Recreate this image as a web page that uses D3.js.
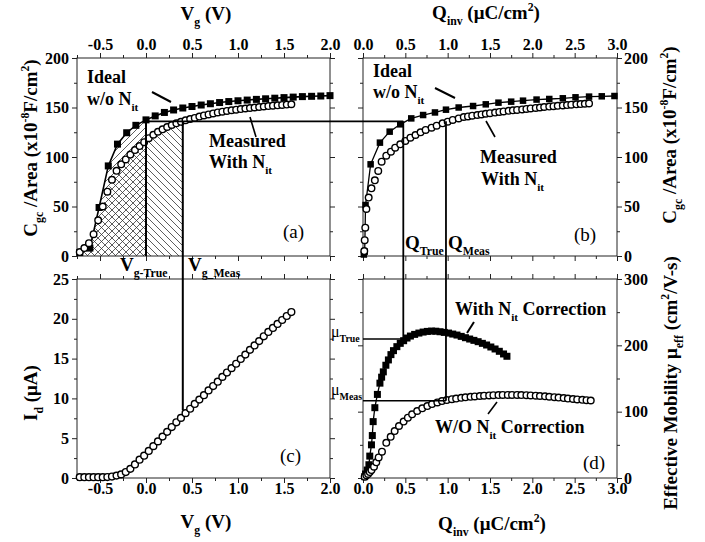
<!DOCTYPE html>
<html>
<head>
<meta charset="utf-8">
<script src="https://cdn.jsdelivr.net/npm/d3@7"></script>
<style>
body{margin:0;background:#fff;}
svg{font-family:"Liberation Serif","Times New Roman",serif;}
.tick text{font-family:"Liberation Serif","Times New Roman",serif;font-weight:bold;font-size:16px;fill:#000;}
.tick line{stroke:#222;}
</style>
</head>
<body>
<svg id="chart" width="705" height="542"></svg>
<script>
// (a) ideal C-V, squares
var vgIdeal=[-0.72,-0.61,-0.51,-0.41,-0.31,-0.21,-0.11,0.0,0.1,0.2,0.3,0.4,0.5,0.6,0.7,0.8,0.9,1.0,1.1,1.2,1.3,1.4,1.5,1.6,1.7,1.8,1.9,2.0];
var cIdeal=[3.5,8,49,91,113,124.5,132,137.5,141.5,145,147.5,149.5,151,152.5,153.8,155,156,156.8,157.5,158.2,158.8,159.4,160,160.5,161,161.3,161.6,162];
// (a) measured C-V and (c) Id-Vg, circles
var vgMeas=[-0.72,-0.67,-0.62,-0.57,-0.52,-0.47,-0.42,-0.37,-0.32,-0.27,-0.22,-0.17,-0.12,-0.07,-0.02,0.03,0.08,0.13,0.18,0.23,0.28,0.33,0.38,0.43,0.48,0.53,0.58,0.63,0.68,0.73,0.78,0.83,0.88,0.93,0.98,1.03,1.08,1.13,1.18,1.23,1.28,1.33,1.38,1.43,1.48,1.53,1.58];
var cMeas=[4,8,13,22,36,50,65,77,86,92.6,97.6,102.5,107,111,115,119,122.5,125.5,128,130.3,132.3,134,135.5,137,138.3,139.5,140.8,142,143,144,145,145.8,146.5,147.2,147.8,148.4,149,149.5,150,150.5,151,151.4,151.8,152.2,152.6,153,153.3];
var idMeas=[0.1,0.1,0.1,0.1,0.1,0.1,0.12,0.18,0.3,0.45,0.75,1.15,1.7,2.3,2.8,3.4,4.0,4.6,5.2,5.8,6.4,7.0,7.55,8.15,8.7,9.3,9.85,10.4,11.0,11.55,12.1,12.7,13.25,13.8,14.35,14.95,15.5,16.1,16.65,17.2,17.8,18.35,18.85,19.35,19.85,20.35,20.85];
// (b) C vs Qinv
var qIdeal=[0.01,0.02,0.03,0.09,0.2,0.315,0.44,0.57,0.71,0.85,0.98,1.13,1.30,1.45,1.60,1.75,1.89,2.05,2.20,2.36,2.51,2.67,2.82,2.97];
var cIdealQ=[1.5,4.4,51.5,92.6,114.5,125.6,133,139,142.4,145,147.8,150,151.5,153.2,154.9,155.9,156.9,158,158.6,159.3,160.3,161,161.3,161.6];
var qMeas=[0.015,0.02,0.027,0.04,0.067,0.1,0.14,0.18,0.22,0.275,0.33,0.38,0.44,0.5,0.56,0.62,0.68,0.74,0.81,0.87,0.94,1.0,1.06,1.13,1.19,1.24,1.29,1.35,1.40,1.45,1.50,1.56,1.61,1.66,1.72,1.77,1.82,1.88,1.93,1.98,2.04,2.09,2.14,2.20,2.25,2.30,2.36,2.41,2.46,2.52,2.57,2.62,2.67];
var cMeasQ=[5,16,28.6,47.5,59,68.4,76.4,85.9,95.3,101.3,105.4,109.4,112.8,116.2,119.5,122.2,124.9,127.3,129.6,131.6,134,135.7,137.4,139,140.4,141,141.7,142.4,143,143.7,144.3,144.9,145.5,146,146.6,147.1,147.6,148.1,148.6,149.1,149.6,150,150.5,150.9,151.3,151.7,152.1,152.5,152.9,153.2,153.5,153.8,154.1];
// (d) mobility vs Qinv
var qCorr=[0.02,0.03,0.05,0.07,0.08,0.1,0.11,0.12,0.14,0.17,0.2,0.22,0.24,0.27,0.3,0.33,0.36,0.4,0.44,0.48,0.52,0.56,0.61,0.66,0.71,0.76,0.81,0.86,0.91,0.96,1.01,1.06,1.11,1.16,1.21,1.26,1.31,1.36,1.41,1.46,1.51,1.56,1.61,1.66,1.7];
var muCorr=[2,6,12,20,33,50,64,85,106,126,143,152,160,170,178,186,192,198,203,207,211,214,216.5,218.5,220,221,221.5,221.3,220.5,219.5,218.5,217,215.5,213.5,211.5,209.5,207.5,205.5,203,200.5,197.5,194.5,191,187,183.5];
var qNoCorr=[0.02,0.04,0.06,0.08,0.1,0.13,0.157,0.185,0.224,0.275,0.327,0.374,0.425,0.48,0.53,0.58,0.64,0.7,0.76,0.815,0.878,0.933,0.99,1.05,1.1,1.16,1.21,1.27,1.32,1.38,1.43,1.49,1.54,1.6,1.65,1.71,1.76,1.82,1.87,1.93,1.98,2.04,2.09,2.15,2.2,2.26,2.31,2.37,2.42,2.48,2.53,2.59,2.64,2.69];
var muNoCorr=[2,4,6,9,12,17,23.6,31,39.7,53,62,70.8,78.4,85,91,96,101,105,108.5,111.5,114,116,117.5,118.8,119.8,120.8,121.6,122.4,123,123.6,124.1,124.5,124.8,125,125.2,125.3,125.3,125.2,125,124.8,124.5,124.1,123.6,123.1,122.5,121.9,121.2,120.5,119.8,119.1,118.4,117.8,117.3,116.8];
// guide values
var cLevel=136, vgTrue=0.0, vgMeasG=0.4, idAtMeas=8.5;
var qTrue=0.476, qMeasG=0.98, muTrue=209.5, muMeas=116.5;
// ticks
var vgTicks=[-0.5,0.0,0.5,1.0,1.5,2.0], vgMinor=[-0.75,-0.25,0.25,0.75,1.25,1.75];
var qTicks=[0.0,0.5,1.0,1.5,2.0,2.5,3.0], qMinor=[0.25,0.75,1.25,1.75,2.25,2.75];
var cTicks=[0,50,100,150,200], cMinor=[25,75,125,175];
var idTicks=[0,5,10,15,20,25], idMinor=[2.5,7.5,12.5,17.5,22.5];
var muTicks=[0,100,200,300], muMinor=[50,150,250];

var svg=d3.select("#chart");
var xA=d3.scaleLinear().domain([-0.75,2.0]).range([77,330]);
var yA=d3.scaleLinear().domain([0,200]).range([256,58]);
var yC=d3.scaleLinear().domain([0,25]).range([478,279]);
var xB=d3.scaleLinear().domain([0,3]).range([363,617]);
var yD=d3.scaleLinear().domain([0,300]).range([478,279]);

function fmt1(d){return d3.format(".1f")(d).replace("\u2212","-");}
function fmt0(d){return String(d);}

function frame(x,y,xMaj,xMin,xSide,yMaj,yMin,ySide){
  var x0=x.range()[0],x1=x.range()[1],yb=y.range()[0],yt=y.range()[1];
  var defs=[
    [d3.axisTop(x),"translate(0,"+yt+")",xMaj,xMin,xSide=="top",fmt1,3],
    [d3.axisBottom(x),"translate(0,"+yb+")",xMaj,xMin,xSide=="bottom",fmt1,0],
    [d3.axisLeft(y),"translate("+x0+",0)",yMaj,yMin,ySide=="left",fmt0,3],
    [d3.axisRight(y),"translate("+x1+",0)",yMaj,yMin,ySide=="right",fmt0,2]
  ];
  defs.forEach(function(a){
    var major=a[0].tickValues(a[2]).tickSize(5).tickPadding(a[6]);
    major.tickFormat(a[4]?a[5]:"");
    var g=svg.append("g").attr("transform",a[1]).call(major);
    g.attr("font-family",null).attr("font-size",null);
    g.select(".domain").remove();
    var mg=svg.append("g").attr("transform",a[1]).call(a[0].tickValues(a[3]).tickSize(3).tickFormat(""));
    mg.select(".domain").remove();
  });
  svg.append("rect").attr("x",x0).attr("y",yt).attr("width",x1-x0).attr("height",yb-yt)
    .attr("fill","none").attr("stroke","#222").attr("stroke-width",1);
}

// rich text with sub/superscripts
function rich(x,y,parts,size,opt){
  opt=opt||{};
  var t=svg.append("text").attr("x",x).attr("y",y).attr("font-size",size)
    .attr("font-weight",opt.normal?"normal":"bold").attr("text-anchor",opt.anchor||"start");
  if(opt.rot) t.attr("transform","rotate("+opt.rot+","+x+","+y+")");
  var off=0;
  parts.forEach(function(p){
    var tgt=0,fs=size;
    if(p[1]=="sub"){tgt=size*0.32;fs=size*0.62;}
    if(p[1]=="sup"){tgt=-size*0.42;fs=size*0.62;}
    var ts=t.append("tspan").attr("dy",(tgt-off).toFixed(2)).attr("font-size",fs).text(p[0]);
    if(p[2]) ts.attr("font-weight",p[2]);
    off=tgt;
  });
  return t;
}

// hatch patterns
var defs=svg.append("defs");
var pSlash=defs.append("pattern").attr("id","hSlash").attr("patternUnits","userSpaceOnUse").attr("width",7).attr("height",7);
pSlash.append("path").attr("d","M0,7L7,0M-1,1L1,-1M6,8L8,6").attr("stroke","#333").attr("stroke-width",0.8);
var pBack=defs.append("pattern").attr("id","hBack").attr("patternUnits","userSpaceOnUse").attr("width",7).attr("height",7);
pBack.append("path").attr("d","M0,0L7,7M-1,6L1,8M6,-1L8,1").attr("stroke","#333").attr("stroke-width",0.8);
defs.append("clipPath").attr("id","clipTrue").append("rect")
  .attr("x",xA(-0.75)).attr("y",yA(200)).attr("width",xA(vgTrue)-xA(-0.75)).attr("height",yA(0)-yA(200));
defs.append("clipPath").attr("id","clipMeas").append("rect")
  .attr("x",xA(-0.75)).attr("y",yA(200)).attr("width",xA(vgMeasG)-xA(-0.75)).attr("height",yA(0)-yA(200));

var idealA=vgIdeal.map(function(v,i){return [v,cIdeal[i]];});
var measA=vgMeas.map(function(v,i){return [v,cMeas[i]];});
var idC=vgMeas.map(function(v,i){return [v,idMeas[i]];});
var idealB=qIdeal.map(function(v,i){return [v,cIdealQ[i]];});
var measB=qMeas.map(function(v,i){return [v,cMeasQ[i]];});
var corrD=qCorr.map(function(v,i){return [v,muCorr[i]];});
var noCorrD=qNoCorr.map(function(v,i){return [v,muNoCorr[i]];});

// hatched areas in (a)
var areaA=d3.area().x(function(d){return xA(d[0]);}).y0(yA(0)).y1(function(d){return yA(d[1]);});
svg.append("path").datum(idealA).attr("d",areaA).attr("fill","url(#hSlash)").attr("clip-path","url(#clipTrue)");
svg.append("path").datum(measA).attr("d",areaA).attr("fill","url(#hBack)").attr("clip-path","url(#clipMeas)");

frame(xA,yA,vgTicks,vgMinor,"top",cTicks,cMinor,"left");
frame(xA,yC,vgTicks,vgMinor,"bottom",idTicks,idMinor,"left");
frame(xB,yA,qTicks,qMinor,"top",cTicks,cMinor,"right");
frame(xB,yD,qTicks,qMinor,"bottom",muTicks,muMinor,"right");

function lineOn(data,x,y,w){
  svg.append("path").datum(data).attr("fill","none").attr("stroke","#000").attr("stroke-width",w)
    .attr("d",d3.line().x(function(d){return x(d[0]);}).y(function(d){return y(d[1]);}));
}
function squares(data,x,y,s){
  svg.append("g").selectAll("rect").data(data).join("rect")
    .attr("x",function(d){return x(d[0])-s/2;}).attr("y",function(d){return y(d[1])-s/2;})
    .attr("width",s).attr("height",s).attr("fill","#000");
}
function circles(data,x,y,r){
  svg.append("g").selectAll("circle").data(data).join("circle")
    .attr("cx",function(d){return x(d[0]);}).attr("cy",function(d){return y(d[1]);})
    .attr("r",r).attr("fill","#fff").attr("stroke","#000").attr("stroke-width",1.4);
}

lineOn(idealA,xA,yA,1.6);
squares(idealA,xA,yA,7);
circles(measA,xA,yA,3.3);
circles(idC,xA,yC,3.4);
lineOn(idealB,xB,yA,1.3);
squares(idealB,xB,yA,6.5);
circles(measB,xB,yA,3.3);
lineOn(corrD,xB,yD,1.3);
squares(corrD,xB,yD,7);
circles(noCorrD,xB,yD,3.3);

// guide lines
function seg(x1,y1,x2,y2,w){
  svg.append("line").attr("x1",x1).attr("y1",y1).attr("x2",x2).attr("y2",y2)
    .attr("stroke","#000").attr("stroke-width",w||2);
}
seg(xA(vgTrue),yA(cLevel),xB(qTrue),yA(cLevel),1.8);
seg(xA(vgTrue),yA(cLevel),xA(vgTrue),yA(0),2);
seg(xA(vgMeasG),yA(cLevel),xA(vgMeasG),yC(idAtMeas),2);
seg(xB(qTrue),yA(cLevel),xB(qTrue),yD(muTrue),1.8);
seg(xB(qMeasG),yA(cLevel),xB(qMeasG),yD(muMeas),1.8);
seg(xB(0),yD(muTrue),xB(qTrue),yD(muTrue),1.6);
seg(xB(0),yD(muMeas),xB(qMeasG),yD(muMeas),1.6);

// pointer lines
seg(152,92,171,102,2);
seg(250,117,256,137,1.6);
seg(435,88,455,98,2);
seg(495,137,486,121,1.6);
seg(474,322,467,333,2);
seg(497,402,488,414,1.6);

// annotations
var A=18;
rich(87,83,[["Ideal"]],A);
rich(87,105,[["w/o N"],["it","sub"]],A);
rich(209,147,[["Measured"]],A);
rich(209,168,[["With N"],["it","sub"]],A);
rich(283,238,[["(a)"]],19,{normal:true});
rich(373,77,[["Ideal"]],A);
rich(373,98,[["w/o N"],["it","sub"]],A);
rich(480,163,[["Measured"]],A);
rich(481,185,[["With N"],["it","sub"]],A);
rich(574,241,[["(b)"]],19,{normal:true});
rich(280,462,[["(c)"]],19,{normal:true});
rich(455,315,[["With N"],["it","sub"],[" Correction"]],A);
rich(435,433,[["W/O N"],["it","sub"],[" Correction"]],A);
rich(583,469,[["(d)"]],19,{normal:true});
rich(120,271,[["V"],["g-True","sub"]],19);
rich(188,271,[["V"],["g_Meas","sub"]],19);
rich(405,249,[["Q"],["True","sub"]],19);
rich(448,249,[["Q"],["Meas","sub"]],19);
rich(331,337,[["\u03bc"],["True","sub","bold"]],16,{normal:true});
rich(331,395,[["\u03bc"],["Meas","sub","bold"]],16,{normal:true});

// axis titles
var T=19;
rich(206,20,[["V"],["g","sub"],[" (V)"]],T,{anchor:"middle"});
rich(486,19,[["Q"],["inv","sub"],[" (\u03bcC/cm"],["2","sup"],[")"]],T,{anchor:"middle"});
rich(206,528,[["V"],["g","sub"],[" (V)"]],T,{anchor:"middle"});
rich(492,530,[["Q"],["inv","sub"],[" (\u03bcC/cm"],["2","sup"],[")"]],T,{anchor:"middle"});
rich(37,148,[["C"],["gc","sub"],[" /Area (x10"],["-8","sup"],["F/cm"],["2","sup"],[")"]],T,{anchor:"middle",rot:-90});
rich(37,393,[["I"],["d","sub"],[" (\u03bcA)"]],T,{anchor:"middle",rot:-90});
rich(676,135,[["C"],["gc","sub"],[" /Area (x10"],["-8","sup"],["F/cm"],["2","sup"],[")"]],T,{anchor:"middle",rot:-90});
rich(677,383,[["Effective Mobility \u03bc"],["eff","sub"],[" (cm"],["2","sup"],["/V-s)"]],T,{anchor:"middle",rot:-90});
</script>
</body>
</html>
